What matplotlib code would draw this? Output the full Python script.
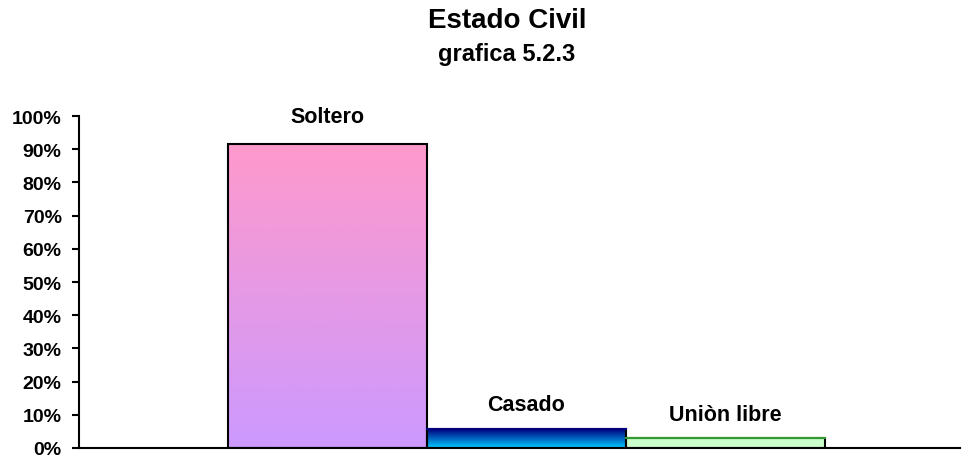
import numpy as np
import matplotlib
matplotlib.use("Agg")
import matplotlib.pyplot as plt
from matplotlib.colors import LinearSegmentedColormap

plt.rcParams['font.family'] = ['Liberation Sans', 'DejaVu Sans']

categories = ["Soltero", "Casado", "Uniòn libre"]
values = [91.5, 5.7, 3.0]
label_y = [98.2, 11.4, 8.4]
top_colors = ["#FF99CC", "#000080", "#CCFFCC"]
bottom_colors = ["#CC99FF", "#00CCFF", "#CCFFCC"]
top_line = [None, "#000080", "#339933"]
yticks = list(range(0, 101, 10))
ytick_labels = [f"{v}%" for v in yticks]

fig = plt.figure(figsize=(9.68, 4.6), dpi=100)
ax = fig.add_axes([79/968, 11/460, 881/968, 332/460])

x = np.arange(len(categories))
bars = ax.bar(x, values, width=1.0, color="none", edgecolor="black", linewidth=1.5, zorder=3)
for i, b in enumerate(bars):
    cmap = LinearSegmentedColormap.from_list(f"g{i}", [bottom_colors[i], top_colors[i]])
    grad = np.linspace(0, 1, 256).reshape(-1, 1)
    x0, w, h = b.get_x(), b.get_width(), b.get_height()
    im = ax.imshow(grad, cmap=cmap, aspect="auto", origin="lower",
                   extent=[x0, x0 + w, 0, h], zorder=2)
    im.set_clip_path(b)
    if top_line[i]:
        ax.plot([x0, x0 + w], [h, h], color=top_line[i], lw=1.5, zorder=4)
    ax.text(x[i], label_y[i], categories[i], ha="center", va="baseline",
            fontsize=15.5, fontweight="bold")

ax.set_xlim(-1.25, 3.18)
ax.set_ylim(0, 100)
ax.set_yticks(yticks)
ax.set_yticklabels(ytick_labels, fontsize=14, fontweight="bold")
ax.set_xticks([])
ax.spines["top"].set_visible(False)
ax.spines["right"].set_visible(False)
ax.spines["left"].set_linewidth(1.5)
ax.spines["bottom"].set_linewidth(1.5)
ax.tick_params(axis="y", direction="out", length=5, width=1.5, pad=7.5)

fig.text(507/968, 1 - 21/460, "Estado Civil", ha="center", va="center",
         fontsize=20, fontweight="bold")
fig.text(507/968, 1 - 55/460, "grafica 5.2.3", ha="center", va="center",
         fontsize=17, fontweight="bold")

fig.savefig("out.png", dpi=100)
